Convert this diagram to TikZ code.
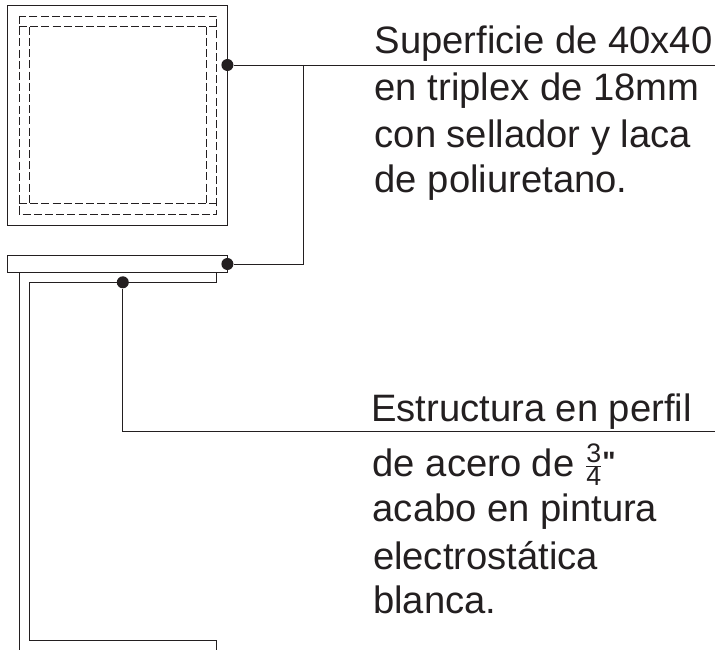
\documentclass[tikz,border=0pt]{standalone}
\usepackage{fontspec}
\setmainfont{Liberation Sans}
\newfontfamily\inchfont{Liberation Sans}
\definecolor{inkline}{HTML}{231F20}
\tikzset{
  dotmark/.style={circle, fill=inkline, inner sep=0pt, minimum size=12pt},
  plan/.style={draw=inkline, line width=.9pt},
  hidden/.style={draw=inkline, line width=.8pt, dash pattern=on 8pt off 3.2pt},
  leader/.style={draw=inkline, line width=.8pt},
  caption/.style={anchor=base west, inner sep=0pt, text=inkline, font=\fontsize{38.2}{38.2}\selectfont}
}
\begin{document}
\begin{tikzpicture}[x=1pt, y=-1pt]
  \useasboundingbox (0,0) rectangle (719,650);
  % top view
  \draw[plan] (7.6,5.4) rectangle (227.4,225.6);
  \draw[hidden] (19,16) rectangle (216.6,214);
  \draw[hidden] (19,26.8) -- (216.6,26.8);
  \draw[hidden] (19,203.3) -- (216.6,203.3);
  \draw[hidden] (29.3,26.8) -- (29.3,203.3);
  \draw[hidden] (206,26.8) -- (206,203.3);
  % side view
  \draw[plan] (7.6,255.7) rectangle (227.4,272);
  \draw[plan] (19,272) -- (19,650);
  \draw[plan] (19,272) -- (216.6,272) -- (216.6,282.3) -- (29.3,282.3) -- (29.3,640) -- (216.6,640) -- (216.6,650);
  % leaders
  \node[dotmark] (surfacedot) at (227.4,65) {};
  \node[dotmark] (platedot) at (227.4,264) {};
  \node[dotmark] (framedot) at (122.8,282.3) {};
  \coordinate (surfaceend) at (715,65);
  \coordinate (surfacebend) at (303,65);
  \coordinate (platebend) at (303,264);
  \coordinate (framebend) at (122.8,431.3);
  \coordinate (frameend) at (715,431.3);
  \draw[leader] (surfacedot) -- (surfaceend);
  \draw[leader] (surfacebend) -- (platebend) -- (platedot);
  \draw[leader] (framedot) -- (framebend) -- (frameend);
  % texts
  \node[caption] (surfaceone) at (374.5,53.3) {Superficie de 40x40};
  \node[caption] (surfacetwo) at (374.5,100.7) {en triplex de 18mm};
  \node[caption] (surfacethree) at (374.5,147.3) {con sellador y laca};
  \node[caption] (surfacefour) at (374.5,192.3) {de poliuretano.};
  \node[caption] (frameone) at (371,421.7) {Estructura en perfil};
  \node[caption] (frametwo) at (372.5,476) {de acero de \raisebox{3.5pt}{$\frac{\mathrm{3}}{\mathrm{4}}$}\raisebox{5pt}{\fontsize{28}{28}\selectfont\inchfont\bfseries"}};
  \node[caption] (framethree) at (372.5,521.7) {acabo en pintura};
  \node[caption] (framefour) at (372.8,569.3) {electrostática};
  \node[caption] (framefive) at (373,613.3) {blanca.};
\end{tikzpicture}
\end{document}
